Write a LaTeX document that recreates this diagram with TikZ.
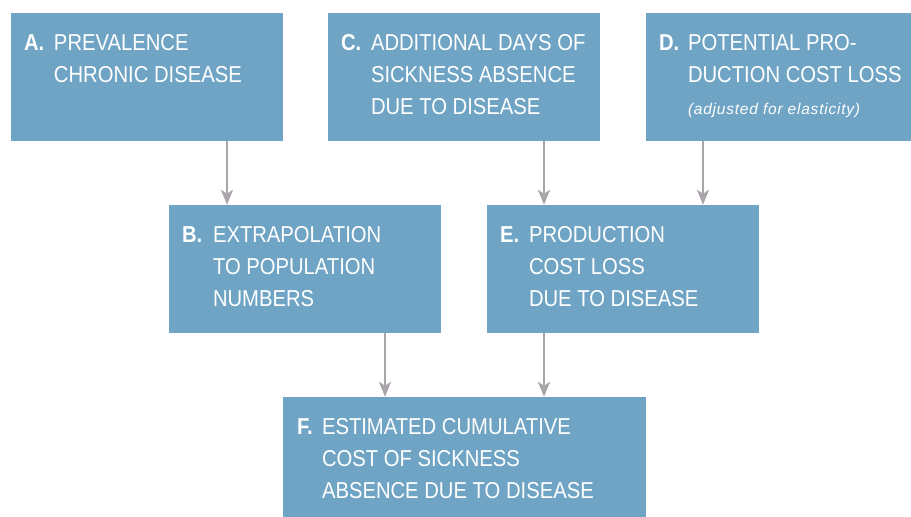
\documentclass[tikz,border=0pt]{standalone}
\usepackage{fontspec}
\setmainfont{Liberation Sans}[FakeStretch=0.88]
\newfontfamily\notefont{Liberation Sans}[LetterSpace=5]
\usetikzlibrary{arrows.meta}
\definecolor{boxblue}{RGB}{111,164,197}
\definecolor{arrowgray}{RGB}{169,165,170}
\newcommand{\boxtext}[3]{\begin{tabular}[t]{@{}p{#1}@{}l@{}}\textbf{#2}&#3\end{tabular}}
\tikzset{
  box/.style={fill=boxblue, draw=none, inner sep=0pt, minimum width=272pt, minimum height=128pt},
  txt/.style={anchor=base west, inner sep=0pt, text=white, font=\fontsize{23}{32}\selectfont},
  arr/.style={draw=arrowgray, line width=2.5pt, -{Stealth[length=15pt,width=12pt,inset=4pt]}}
}
\begin{document}
\begin{tikzpicture}[x=1pt,y=-1pt]
\useasboundingbox (0,0) rectangle (911,517);
\node[box] (A) at (147,77) {};
\node[box] (C) at (464,77) {};
\node[box, minimum width=265pt] (D) at (778.5,77) {};
\node[box] (B) at (305,269) {};
\node[box] (E) at (623,269) {};
\node[box, minimum width=363pt, minimum height=120pt] (F) at (464.5,457) {};
\node[txt] (tA) at ([shift={(13,38)}]A.north west) {\boxtext{30pt}{A.}{PREVALENCE\\&CHRONIC DISEASE}};
\node[txt] (tC) at ([shift={(13,38)}]C.north west) {\boxtext{30pt}{C.}{ADDITIONAL DAYS OF\\&SICKNESS ABSENCE\\&DUE TO DISEASE}};
\node[txt] (tD) at ([shift={(13,38)}]D.north west) {\boxtext{29pt}{D.}{POTENTIAL PRO-\\&DUCTION COST LOSS\\&{\notefont\itshape\fontsize{15.5}{32}\selectfont (adjusted for elasticity)}}};
\node[txt] (tB) at ([shift={(13,38)}]B.north west) {\boxtext{31pt}{B.}{EXTRAPOLATION\\&TO POPULATION\\&NUMBERS}};
\node[txt] (tE) at ([shift={(13,38)}]E.north west) {\boxtext{29pt}{E.}{PRODUCTION\\&COST LOSS\\&DUE TO DISEASE}};
\node[txt] (tF) at ([shift={(14,38)}]F.north west) {\boxtext{25pt}{F.}{ESTIMATED CUMULATIVE\\&COST OF SICKNESS\\&ABSENCE DUE TO DISEASE}};
\draw[arr] ([xshift=80]A.south) -- ([xshift=80]A.south |- B.north);
\draw[arr] ([xshift=80]C.south) -- ([xshift=80]C.south |- E.north);
\draw[arr] ([xshift=-75.5]D.south) -- ([xshift=-75.5]D.south |- E.north);
\draw[arr] ([xshift=80]B.south) -- ([xshift=80]B.south |- F.north);
\draw[arr] ([xshift=-79]E.south) -- ([xshift=-79]E.south |- F.north);
\end{tikzpicture}
\end{document}
